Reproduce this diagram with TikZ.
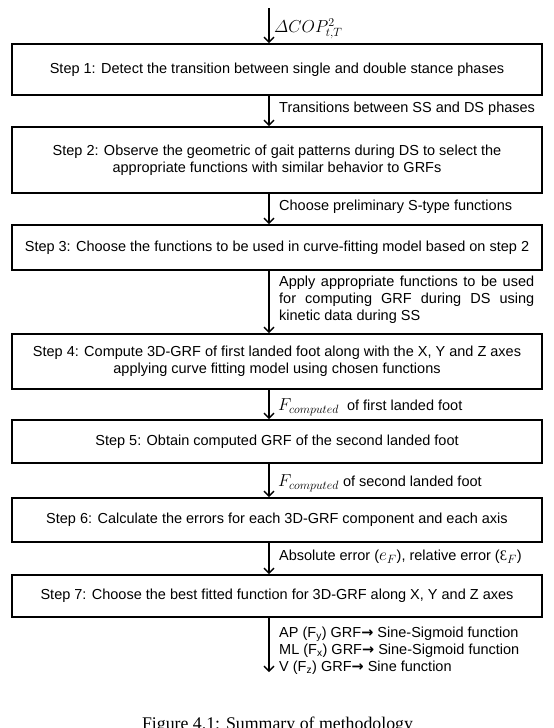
\documentclass[tikz,border=0pt]{standalone}
\usepackage{fontspec}
\setmainfont{Liberation Sans}
\newfontfamily\capfont{Liberation Serif}
\newfontfamily\symfont{DejaVu Sans}
\usetikzlibrary{arrows.meta}
\newcommand{\bigmath}[1]{{\fontsize{16.5}{17}\selectfont$#1$}}
\begin{document}
\begin{tikzpicture}[x=1pt,y=-1pt,
  box/.style={draw=black, line width=1.6pt, minimum width=530pt, inner sep=0pt, align=center, font=\fontsize{14.5}{17}\selectfont},
  lbl/.style={anchor=west, inner sep=0pt, align=left, font=\fontsize{14.5}{17}\selectfont},
  arr/.style={line width=1.2pt, -{Straight Barb[length=5pt,width=10pt,line width=1.4pt]}},
  captext/.style={anchor=base, inner sep=0pt, font=\capfont\fontsize{17.8}{20}\selectfont}]
\useasboundingbox (0,0) rectangle (554,728);
\coordinate (ax) at (269,8);
\coordinate (endp) at (269,672);

\node[box, minimum height=51pt] (b1) at (277,69.5) {Step 1: Detect the transition between single and double stance phases};
\node[box, minimum height=66pt] (b2) at (277,160) {Step 2: Observe the geometric of gait patterns during DS to select the\\appropriate functions with similar behavior to GRFs};
\node[box, minimum height=45pt] (b3) at (277,247.5) {Step 3: Choose the functions to be used in curve-fitting model based on step 2};
\node[box, minimum height=55pt] (b4) at (277,361.5) {Step 4: Compute 3D-GRF of first landed foot along with the X, Y and Z axes\\applying curve fitting model using chosen functions};
\node[box, minimum height=43pt] (b5) at (277,441.5) {Step 5: Obtain computed GRF of the second landed foot};
\node[box, minimum height=44pt] (b6) at (277,520) {Step 6: Calculate the errors for each 3D-GRF component and each axis};
\node[box, minimum height=42pt] (b7) at (277,596) {Step 7: Choose the best fitted function for 3D-GRF along X, Y and Z axes};

\node[lbl] (l0) at (274,29) {\bigmath{\mathnormal{\Delta} COP^{2}_{t,T}}};
\node[lbl] (l1) at (279,109) {Transitions between SS and DS phases};
\node[lbl] (l2) at (279,207) {Choose preliminary S-type functions};
\node[lbl] (l3) at (279,300) {\makebox[255pt][s]{Apply appropriate functions to be used}\\\makebox[255pt][s]{for computing GRF during DS using}\\kinetic data during SS};
\node[lbl] (l4) at (278,407) {\bigmath{F_{computed}}\ \ of first landed foot};
\node[lbl] (l5) at (278,483) {\bigmath{F_{computed}} of second landed foot};
\node[lbl] (l6) at (279,557) {Absolute error (\bigmath{e_F}), relative error ({\capfont Ɛ}\bigmath{_F})};
\node[lbl] (l7) at (279,651) {AP (F\textsubscript{y}) GRF{\symfont\bfseries →} Sine-Sigmoid function\\ML (F\textsubscript{x}) GRF{\symfont\bfseries →} Sine-Sigmoid function\\V (F\textsubscript{z}) GRF{\symfont\bfseries →} Sine function};

\node[captext] (caption) at (277.5,729) {Figure 4.1: Summary of methodology};

\draw[arr] (ax) -- (b1.north -| ax);
\draw[arr] (b1.south -| ax) -- (b2.north -| ax);
\draw[arr] (b2.south -| ax) -- (b3.north -| ax);
\draw[arr] (b3.south -| ax) -- (b4.north -| ax);
\draw[arr] (b4.south -| ax) -- (b5.north -| ax);
\draw[arr] (b5.south -| ax) -- (b6.north -| ax);
\draw[arr] (b6.south -| ax) -- (b7.north -| ax);
\draw[arr] (b7.south -| ax) -- (endp);
\end{tikzpicture}
\end{document}
